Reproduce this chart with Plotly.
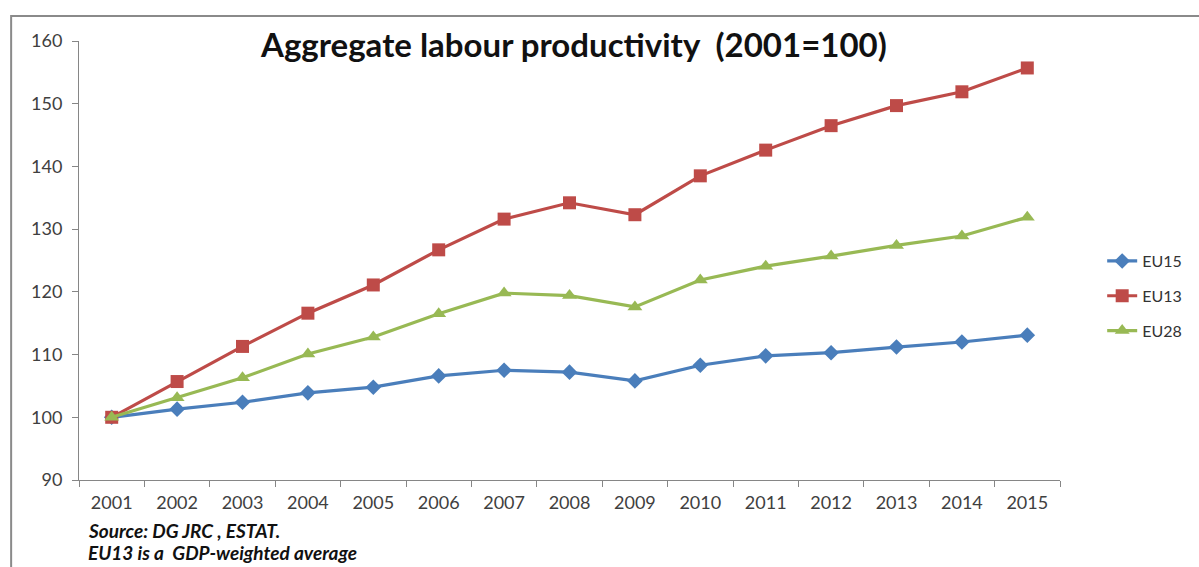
import plotly.graph_objects as go

years = ["2001", "2002", "2003", "2004", "2005", "2006", "2007", "2008",
         "2009", "2010", "2011", "2012", "2013", "2014", "2015"]
eu15 = [100, 101.3, 102.4, 103.9, 104.8, 106.6, 107.5, 107.2, 105.8, 108.3,
        109.8, 110.3, 111.2, 112.0, 113.1]
eu13 = [100, 105.7, 111.3, 116.6, 121.1, 126.7, 131.6, 134.2, 132.3, 138.5,
        142.6, 146.5, 149.7, 151.9, 155.7]
eu28 = [100, 103.1, 106.3, 110.1, 112.8, 116.5, 119.8, 119.4, 117.6, 121.9,
        124.1, 125.7, 127.4, 128.9, 131.9]
y_ticks = [90, 100, 110, 120, 130, 140, 150, 160]

series = [
    ("EU15", eu15, "#4A7EBB", "diamond", 12),
    ("EU13", eu13, "#BE4B48", "square", 13),
    ("EU28", eu28, "#98B954", "triangle-up", 13),
]

fig = go.Figure()
for i, (name, vals, col, sym, sz) in enumerate(series):
    fig.add_trace(go.Scatter(
        x=years, y=vals, name=name, mode="lines+markers",
        line=dict(color=col, width=3.2),
        marker=dict(symbol=sym, size=sz, color=col),
        legendgroup=f"g{i}",
    ))

fig.update_layout(
    width=1199, height=567,
    margin=dict(l=79, r=137, t=41, b=87),
    paper_bgcolor="white", plot_bgcolor="white",
    font=dict(family="Lato, Open Sans, sans-serif", size=18, color="#404040"),
    showlegend=True,
    legend=dict(x=1.043, y=0.419, xanchor="left", yanchor="middle",
                traceorder="grouped", tracegroupgap=11,
                font=dict(size=16, color="#333333"),
                bgcolor="rgba(0,0,0,0)"),
    xaxis=dict(type="category", tickson="boundaries", ticks="outside",
               ticklen=6, tickcolor="#868686", showline=True,
               linecolor="#868686", linewidth=1, showgrid=False,
               tickfont=dict(size=18, color="#404040"), ticklabelstandoff=6,
               range=[-0.5, 14.5], fixedrange=True),
    yaxis=dict(range=[90, 160], tickvals=y_ticks, ticks="outside", ticklen=6,
               tickcolor="#868686", showline=True, linecolor="#868686",
               linewidth=1, showgrid=False, zeroline=False,
               tickfont=dict(size=18, color="#404040"), ticklabelstandoff=6,
               fixedrange=True),
)

fig.add_annotation(
    text="<b>Aggregate labour productivity  (2001=100)</b>",
    xref="paper", yref="paper", x=0.504, y=0.993, xanchor="center", yanchor="middle",
    showarrow=False, font=dict(size=33, color="#111111", family="Lato, Open Sans, sans-serif"),
)
fig.add_annotation(
    text="<b><i>Source: DG JRC , ESTAT.</i></b>",
    xref="paper", yref="paper", x=0.0075, y=-0.114, xanchor="left", yanchor="middle",
    showarrow=False, font=dict(size=19, color="#111111"),
)
fig.add_annotation(
    text="<b><i>EU13 is a  GDP-weighted average</i></b>",
    xref="paper", yref="paper", x=0.0075, y=-0.166, xanchor="left", yanchor="middle",
    showarrow=False, font=dict(size=19, color="#111111"),
)
# outer chart border
fig.add_shape(type="rect", xref="paper", yref="paper",
              x0=(11 - 79) / 983, x1=1.3, y0=-0.4, y1=(480 - 16) / 439,
              line=dict(color="#8a8a8a", width=2), layer="below")

fig.write_html("out.html")
